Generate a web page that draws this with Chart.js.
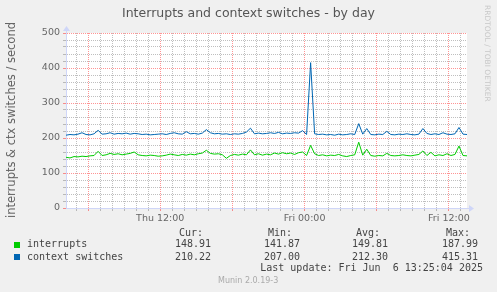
<!DOCTYPE html>
<html>
<head>
<meta charset="utf-8">
<script src="https://cdn.jsdelivr.net/npm/chart.js@4"></script>
<style>
  body { margin: 0; background: #f0f0f0; }
  #wrap { position: relative; width: 497px; height: 292px; overflow: hidden; font-family: "DejaVu Sans", sans-serif; color: #666; }
  canvas { position: absolute; left: 0; top: 0; }
  .t { position: absolute; white-space: pre; }
  .mono { font-family: "DejaVu Sans Mono", monospace; font-size: 10px; line-height: 12px; color: #444; }
</style>
</head>
<body>
<div id="wrap">
  <canvas id="muninChart" width="497" height="292"></canvas>
  <div class="t" style="left:0;width:497px;top:5px;text-align:center;font-size:12.5px;line-height:15px;color:#555;">Interrupts and context switches - by day</div>
  <div class="t" style="left:-99.5px;width:220px;top:113px;height:14px;line-height:14px;text-align:center;font-size:11.5px;transform:rotate(-90deg);">interrupts &amp; ctx switches / second</div>
  <div class="t" style="left:483px;top:5px;writing-mode:vertical-rl;font-size:7.5px;color:#c8c8c8;">RRDTOOL / TOBI OETIKER</div>
  <div class="t" style="left:218px;top:276px;font-size:8px;line-height:10px;color:#aaa;">Munin 2.0.19-3</div>
  <div id="legend"></div>
</div>
<script>
// 20 minute samples, Thu 04:10 -> Fri 13:30
const interrupts = [
  145, 143, 147, 146, 148, 147, 149, 150, 162, 150,
  152, 156, 153, 155, 152, 154, 156, 160, 152, 150,
  149, 151, 150, 148, 149, 151, 154, 152, 150, 153,
  151, 154, 152, 155, 157, 165, 156, 154, 155, 152,
  142, 150, 153, 151, 154, 152, 166, 152, 155, 151,
  154, 152, 157, 154, 158, 155, 157, 153, 158, 160,
  150, 179, 155, 150, 152, 149, 151, 150, 153, 149,
  147, 150, 152, 188, 151, 168, 150, 148, 150, 149,
  156, 150, 149, 150, 152, 150, 149, 151, 153, 163,
  150, 159, 149, 152, 150, 155, 150, 153, 177, 150,
  149
];
const contextSwitches = [
  208, 210, 209, 211, 215, 210, 209, 212, 222, 211,
  212, 215, 211, 213, 212, 214, 211, 213, 212, 210,
  211, 209, 210, 211, 212, 210, 213, 215, 212, 211,
  218, 212, 213, 211, 214, 224, 215, 212, 213, 211,
  212, 210, 212, 211, 213, 217, 228, 212, 214, 212,
  213, 215, 213, 216, 212, 214, 213, 215, 214, 221,
  210, 415.31, 212, 210, 211, 209, 210, 208, 211, 209,
  210, 212, 210, 241, 211, 227, 210, 209, 211, 210,
  219, 210, 209, 211, 210, 212, 210, 209, 211, 227,
  213, 210, 212, 210, 215, 211, 210, 212, 230, 211,
  210
];
const startHour = 4 + 10 / 60;   // hours since Thu 00:00
const stepHour = 1 / 3;
const endHour = 37.5;
const xLabelHours = [12, 24, 36];
const xLabelTexts = ['Thu 12:00', 'Fri 00:00', 'Fri 12:00'];
const yMax = 500;

const statHeaders = ['Cur:', 'Min:', 'Avg:', 'Max:'];
const statInterrupts = ['148.91', '141.87', '149.81', '187.99'];
const statContext = ['210.22', '207.00', '212.30', '415.31'];
const lastUpdate = 'Last update: Fri Jun  6 13:25:04 2025';

const GREEN = '#00cc00';
const BLUE = '#0066b3';
const MAJOR = 'rgba(255, 0, 0, 0.42)';
const MINOR = 'rgba(128, 128, 128, 0.5)';
const AXIS = '#cfd6f8';

const timeHours = interrupts.map((_, i) => startHour + i * stepHour);

const muninPlugin = {
  id: 'munin',
  beforeDraw(chart) {
    const { ctx, chartArea: a } = chart;
    ctx.save();
    ctx.fillStyle = '#ffffff';
    ctx.fillRect(a.left, a.top, a.right - a.left, a.bottom - a.top);
    ctx.restore();
  },
  afterDraw(chart) {
    const { ctx, chartArea: a } = chart;
    const bx = Math.round(a.left) + 0.5;
    const by = Math.round(a.bottom) + 0.5;
    ctx.save();
    ctx.strokeStyle = AXIS;
    ctx.fillStyle = AXIS;
    ctx.lineWidth = 1;
    ctx.beginPath();
    ctx.moveTo(a.right, by); ctx.lineTo(a.right + 3, by);
    ctx.moveTo(bx, a.top); ctx.lineTo(bx, a.top - 3);
    ctx.stroke();
    ctx.beginPath();
    ctx.moveTo(a.right + 7, by); ctx.lineTo(a.right + 2, by - 3.5); ctx.lineTo(a.right + 2, by + 3.5);
    ctx.closePath(); ctx.fill();
    ctx.beginPath();
    ctx.moveTo(bx, a.top - 7); ctx.lineTo(bx - 3.5, a.top - 2); ctx.lineTo(bx + 3.5, a.top - 2);
    ctx.closePath(); ctx.fill();
    ctx.restore();
  }
};

new Chart(document.getElementById('muninChart').getContext('2d'), {
  type: 'line',
  data: {
    datasets: [
      {
        label: 'interrupts',
        data: timeHours.map((x, i) => ({ x, y: interrupts[i] })),
        borderColor: GREEN,
        borderWidth: 1,
        pointRadius: 0,
        tension: 0,
      },
      {
        label: 'context switches',
        data: timeHours.map((x, i) => ({ x, y: contextSwitches[i] })),
        borderColor: BLUE,
        borderWidth: 1,
        pointRadius: 0,
        tension: 0,
      }
    ]
  },
  options: {
    responsive: false,
    animation: false,
    layout: { padding: { left: 0, right: 30, top: 33, bottom: 60 } },
    plugins: {
      legend: { display: false },
      tooltip: { enabled: false },
      title: { display: false },
    },
    scales: {
      x: {
        type: 'linear',
        min: startHour,
        max: endHour,
        afterBuildTicks(scale) {
          const t = [];
          for (let h = 5; h <= 37; h++) t.push({ value: h });
          scale.ticks = t;
        },
        afterFit(scale) { scale.height = 24; },
        ticks: {
          autoSkip: false,
          maxRotation: 0,
          minRotation: 0,
          padding: 2,
          color: '#666',
          font: { family: 'DejaVu Sans', size: 9.5 },
          callback: (v) => {
            const i = xLabelHours.indexOf(v);
            return i >= 0 ? xLabelTexts[i] : '';
          }
        },
        grid: {
          color: (c) => (c.tick && c.tick.value % 6 === 0 ? MAJOR : MINOR),
          tickLength: 3,
        },
        border: { color: AXIS, dash: [1, 1] },
      },
      y: {
        min: 0,
        max: yMax,
        afterFit(scale) { scale.width = 66; },
        ticks: {
          stepSize: 20,
          autoSkip: false,
          padding: 3,
          color: '#666',
          font: { family: 'DejaVu Sans', size: 9.5 },
          callback: (v) => (v % 100 === 0 ? String(v) : ''),
        },
        grid: {
          color: (c) => (c.tick && c.tick.value % 100 === 0 ? MAJOR : MINOR),
          tickLength: 3,
        },
        border: { color: AXIS, dash: [1, 1] },
      }
    }
  },
  plugins: [muninPlugin]
});

// legend table below the plot
const legend = document.getElementById('legend');
function addText(txt, style) {
  const d = document.createElement('div');
  d.className = 't mono';
  d.textContent = txt;
  d.setAttribute('style', style);
  legend.appendChild(d);
}
function addSwatch(color, top) {
  const d = document.createElement('div');
  d.style.cssText = `position:absolute;left:14px;top:${top}px;width:6px;height:6px;background:${color};`;
  legend.appendChild(d);
}
const colRight = [211, 300, 388, 478];
statHeaders.forEach((h, i) => addText(h, `right:${497 - colRight[i] + 8}px;top:226.5px;`));
addSwatch(GREEN, 241.5);
addText('interrupts', 'left:27px;top:238px;');
statInterrupts.forEach((v, i) => addText(v, `right:${497 - colRight[i]}px;top:238px;`));
addSwatch(BLUE, 253.5);
addText('context switches', 'left:27px;top:250.5px;');
statContext.forEach((v, i) => addText(v, `right:${497 - colRight[i]}px;top:250.5px;`));
addText(lastUpdate, 'right:14px;top:262.3px;');
</script>
</body>
</html>
